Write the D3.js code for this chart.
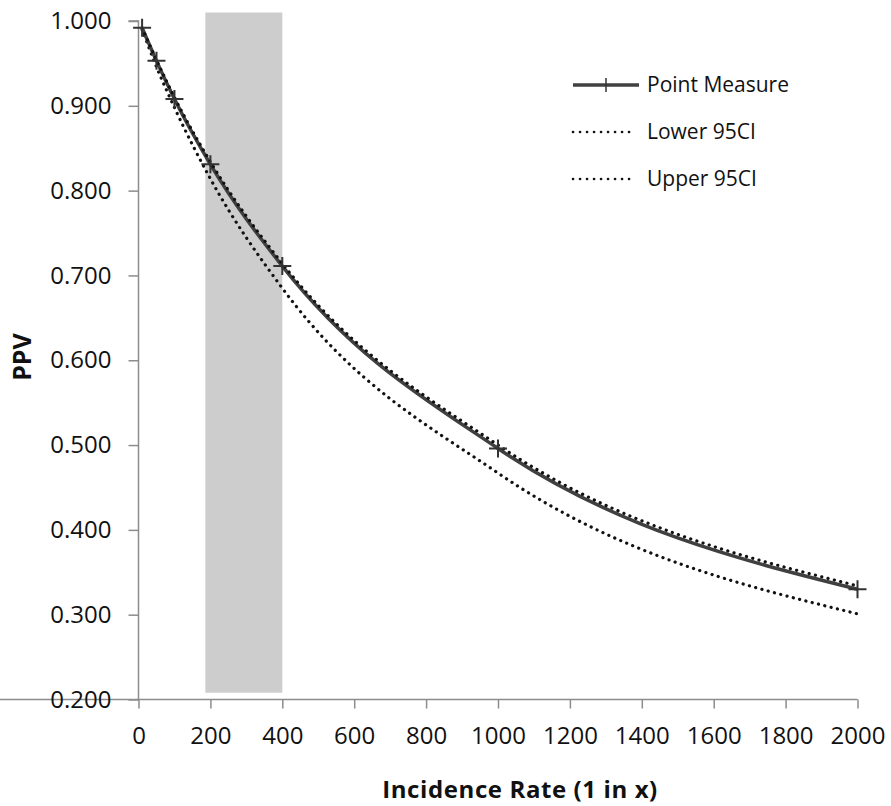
<!DOCTYPE html>
<html>
<head>
<meta charset="utf-8">
<script src="https://cdn.jsdelivr.net/npm/d3@7"></script>
<style>
  html, body { margin: 0; padding: 0; background: #fff; }
  svg { display: block; }
  text { font-family: "Open Sans", "DejaVu Sans", sans-serif; fill: #111; }
</style>
</head>
<body>
<svg id="chart" width="891" height="806"></svg>
<script>
// ---- data ----
const incidence = [10, 50, 100, 200, 400, 1000, 2000];
const pointMeasure = [0.992, 0.953, 0.908, 0.831, 0.711, 0.496, 0.330];
const lower95 = [0.990, 0.946, 0.898, 0.814, 0.685, 0.467, 0.301];
const upper95 = [0.992, 0.954, 0.910, 0.834, 0.714, 0.500, 0.334];
const bandX = [186, 400];
const bandY = [0.208, 1.010];
const xTicks = [0, 200, 400, 600, 800, 1000, 1200, 1400, 1600, 1800, 2000];
const yTicks = [0.2, 0.3, 0.4, 0.5, 0.6, 0.7, 0.8, 0.9, 1.0];
const seriesNames = ["Point Measure", "Lower 95CI", "Upper 95CI"];

const svg = d3.select("#chart");
const x = d3.scaleLinear().domain([0, 2000]).range([138.5, 857.5]);
const y = d3.scaleLinear().domain([0.2, 1.0]).range([699.5, 21]);
const axisColor = "#8c8c8c";

// shaded band
svg.append("rect")
  .attr("x", x(bandX[0])).attr("width", x(bandX[1]) - x(bandX[0]))
  .attr("y", y(bandY[1])).attr("height", y(bandY[0]) - y(bandY[1]))
  .attr("fill", "#cdcdcd");

// axes
const gx = svg.append("g").attr("transform", `translate(0,${y(0.2)})`)
  .call(d3.axisBottom(x).tickValues(xTicks).tickSize(9).tickPadding(18.5).tickFormat(d3.format("d")));
const gy = svg.append("g").attr("transform", `translate(${x(0)},0)`)
  .call(d3.axisLeft(y).tickValues(yTicks).tickSize(10).tickPadding(17).tickFormat(d3.format(".3f")));
[gx, gy].forEach(g => {
  g.selectAll("path, line").attr("stroke", axisColor).attr("stroke-width", 1.5);
  g.selectAll("text").style("font-size", "24px").attr("fill", "#111");
});
gy.select(".domain").attr("d", `M-10,${y(1.0)}H0V${y(0.2)}`);
gx.select(".domain").attr("d", `M0,0H${x(2000)}`);

// axis titles
svg.append("text").attr("x", 520).attr("y", 798).attr("text-anchor", "middle")
  .style("font-size", "24px").style("font-weight", "bold").style("letter-spacing", "0.6px")
  .text("Incidence Rate (1 in x)");
svg.append("text").attr("transform", "translate(31,357) rotate(-90)").attr("text-anchor", "middle")
  .style("font-size", "25px").style("font-weight", "bold").text("PPV");

// lines (smoothed)
const line = vals => d3.line().x((d, i) => x(incidence[i])).y(d => y(d)).curve(d3.curveMonotoneX)(vals);
const dotted = { stroke: "#111", "stroke-width": 3.2, "stroke-dasharray": "0.1 6.4", "stroke-linecap": "round", fill: "none" };
function applyAttrs(sel, o) { Object.entries(o).forEach(([k, v]) => sel.attr(k, v)); return sel; }

applyAttrs(svg.append("path").attr("d", line(lower95)), dotted);
svg.append("path").attr("d", line(pointMeasure)).attr("fill", "none").attr("stroke", "#404040").attr("stroke-width", 3.5);
applyAttrs(svg.append("path").attr("d", line(upper95)), dotted);

// markers
svg.append("g").selectAll("path").data(pointMeasure).join("path")
  .attr("d", (d, i) => { const cx = x(incidence[i]), cy = y(d), r = 9; return `M${cx - r},${cy}H${cx + r}M${cx},${cy - r}V${cy + r}`; })
  .attr("stroke", "#333").attr("stroke-width", 2).attr("fill", "none");

// legend
const lg = svg.append("g");
const legendY = [85, 132, 179];
lg.append("line").attr("x1", 573).attr("x2", 639).attr("y1", legendY[0]).attr("y2", legendY[0])
  .attr("stroke", "#404040").attr("stroke-width", 3.5);
lg.append("line").attr("x1", 606).attr("x2", 606).attr("y1", legendY[0] - 7).attr("y2", legendY[0] + 7)
  .attr("stroke", "#333").attr("stroke-width", 1.5);
[1, 2].forEach(k => {
  applyAttrs(lg.append("line").attr("x1", 573).attr("x2", 636).attr("y1", legendY[k]).attr("y2", legendY[k]), dotted)
    .attr("stroke-width", 2.6).attr("stroke-dasharray", "0.1 6.9");
});
seriesNames.forEach((n, k) => {
  lg.append("text").attr("x", 647).attr("y", legendY[k]).attr("dy", "0.35em")
    .style("font-size", "21px").attr("fill", "#111").text(n);
});
</script>
</body>
</html>
